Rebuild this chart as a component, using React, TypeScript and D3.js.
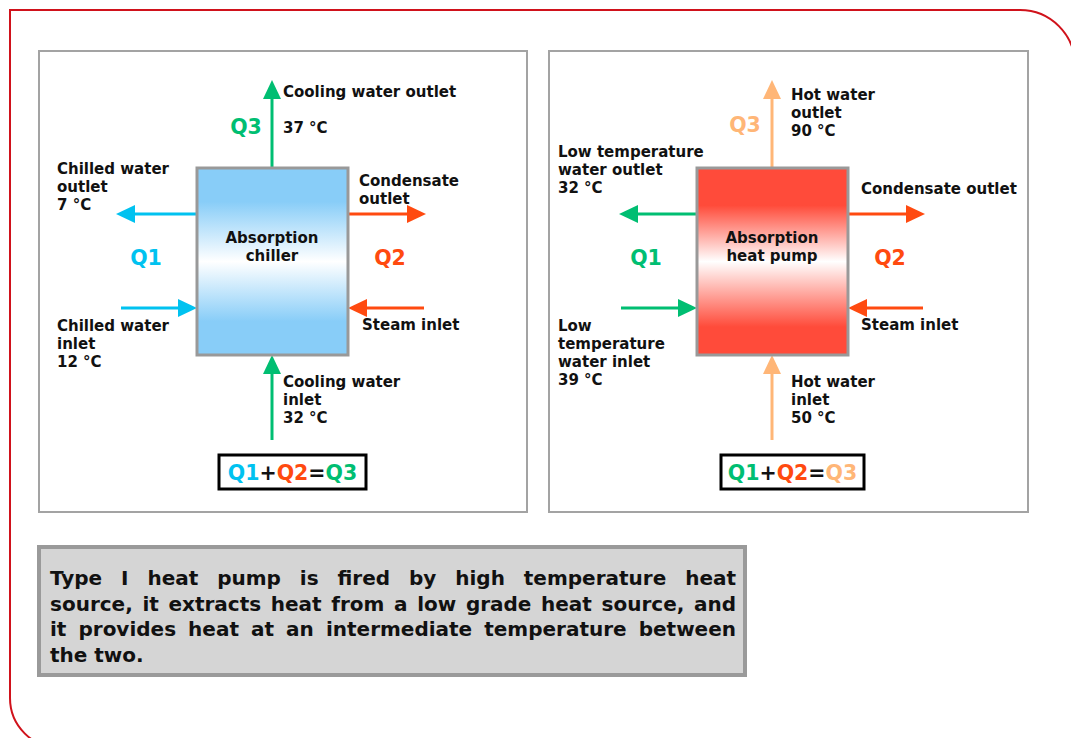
import React from 'react';
import * as d3 from 'd3';

const W = 1071;
const H = 738;

// ---- data (texts / colours per panel) ----
const panelNames = [["Absorption", "chiller"], ["Absorption", "heat pump"]];
const topLabels = [["Cooling water outlet", "", "37 °C"], ["Hot water", "outlet", "90 °C"]];
const leftOutLabels = [["Chilled water", "outlet", "7 °C"], ["Low temperature", "water outlet", "32 °C"]];
const rightOutLabels = [["Condensate", "outlet"], ["Condensate outlet"]];
const leftInLabels = [["Chilled water", "inlet", "12 °C"], ["Low", "temperature", "water inlet", "39 °C"]];
const rightInLabels = [["Steam inlet"], ["Steam inlet"]];
const bottomLabels = [["Cooling water", "inlet", "32 °C"], ["Hot water", "inlet", "50 °C"]];
const qNames = ["Q1", "Q2", "Q3"];
const q1Colors = ["#00c2f0", "#00be72"];
const q2Colors = ["#ff4a10", "#ff4a10"];
const q3Colors = ["#00be72", "#ffb677"];
const boxColors = ["#88cdf8", "#ff4b3a"];
const descLines = [
  "Type I heat pump is fired by high temperature heat",
  "source, it extracts heat from a low grade heat source, and",
  "it provides heat at an intermediate temperature between",
  "the two.",
];

// ---- layout ----
const layouts = [
  {
    panel: [39, 51, 527, 512],
    box: [197, 168, 348, 355],
    cx: 272,
    topY: 92, topX: 283,
    loY: 169, loX: 57,
    roY: 181, roX: 359,
    liY: 326, liX: 57,
    riY: 325, riX: 362,
    boY: 382, boX: 283,
    q3: [246, 127], q1: [146, 258], q2: [390, 258],
    eq: [219, 455, 366, 489],
    outL: 116, inL: 121, outR: 426, inR: 424,
  },
  {
    panel: [549, 51, 1028, 512],
    box: [697, 168, 848, 355],
    cx: 772,
    topY: 95, topX: 791,
    loY: 152, loX: 558,
    roY: 189, roX: 861,
    liY: 326, liX: 558,
    riY: 325, riX: 861,
    boY: 382, boX: 791,
    q3: [745, 125], q1: [646, 258], q2: [890, 258],
    eq: [721, 455, 864, 489],
    outL: 619, inL: 621, outR: 925, inR: 923,
  },
];

const FONT = "'DejaVu Sans', Verdana, sans-serif";
const LABEL_SIZE = 15;
const LH = 18;
const ARR_Y_TOP = 214;
const ARR_Y_BOT = 308;

function Arrow({ x1, y1, x2, y2, color }: any) {
  const len = 19, hw = 9;
  const ang = Math.atan2(y2 - y1, x2 - x1);
  const bx = x2 - len * Math.cos(ang);
  const by = y2 - len * Math.sin(ang);
  const px = -Math.sin(ang) * hw, py = Math.cos(ang) * hw;
  const head = d3.path();
  head.moveTo(x2, y2);
  head.lineTo(bx + px, by + py);
  head.lineTo(bx - px, by - py);
  head.closePath();
  return (
    <g>
      <line x1={x1} y1={y1} x2={bx} y2={by} stroke={color} strokeWidth={3} />
      <path d={head.toString()} fill={color} />
    </g>
  );
}

function Lines({ lines, x, y, anchor = "start" }: any) {
  return (
    <g>
      {lines.map((t: string, i: number) =>
        t ? (
          <text key={i} x={x} y={y + i * LH} dominantBaseline="central" textAnchor={anchor}
            fontFamily={FONT} fontWeight="bold" fontSize={LABEL_SIZE} fill="#111">{t}</text>
        ) : null
      )}
    </g>
  );
}

function Panel({ i }: { i: number }) {
  const L = layouts[i];
  const [bx0, by0, bx1, by1] = L.box;
  const gid = `grad${i}`;
  const c = boxColors[i];
  const qf = { fontFamily: FONT, fontWeight: "bold", fontSize: 20.5 } as any;
  return (
    <g>
      <defs>
        <linearGradient id={gid} x1="0" y1="0" x2="0" y2="1">
          <stop offset="0" stopColor={c} />
          <stop offset={i === 0 ? 0.18 : 0.2} stopColor={c} />
          <stop offset="0.5" stopColor="#ffffff" />
          <stop offset={i === 0 ? 0.82 : 0.85} stopColor={c} />
          <stop offset="1" stopColor={c} />
        </linearGradient>
      </defs>
      <rect x={L.panel[0]} y={L.panel[1]} width={L.panel[2] - L.panel[0]} height={L.panel[3] - L.panel[1]}
        fill="#fff" stroke="#a3a3a3" strokeWidth={2} />
      <Arrow x1={L.cx} y1={by0} x2={L.cx} y2={80} color={q3Colors[i]} />
      <Arrow x1={L.cx} y1={440} x2={L.cx} y2={by1} color={q3Colors[i]} />
      <Arrow x1={bx0} y1={ARR_Y_TOP} x2={L.outL} y2={ARR_Y_TOP} color={q1Colors[i]} />
      <Arrow x1={L.inL} y1={ARR_Y_BOT} x2={bx0} y2={ARR_Y_BOT} color={q1Colors[i]} />
      <Arrow x1={bx1} y1={ARR_Y_TOP} x2={L.outR} y2={ARR_Y_TOP} color={q2Colors[i]} />
      <Arrow x1={L.inR} y1={ARR_Y_BOT} x2={bx1} y2={ARR_Y_BOT} color={q2Colors[i]} />
      <rect x={bx0} y={by0} width={bx1 - bx0} height={by1 - by0} fill={`url(#${gid})`} stroke="#999" strokeWidth={3} />
      <Lines lines={panelNames[i]} x={L.cx} y={238} anchor="middle" />
      <Lines lines={topLabels[i]} x={L.topX} y={L.topY} />
      <Lines lines={leftOutLabels[i]} x={L.loX} y={L.loY} />
      <Lines lines={rightOutLabels[i]} x={L.roX} y={L.roY} />
      <Lines lines={leftInLabels[i]} x={L.liX} y={L.liY} />
      <Lines lines={rightInLabels[i]} x={L.riX} y={L.riY} />
      <Lines lines={bottomLabels[i]} x={L.boX} y={L.boY} />
      <text x={L.q3[0]} y={L.q3[1]} textAnchor="middle" dominantBaseline="central" fill={q3Colors[i]} {...qf}>{qNames[2]}</text>
      <text x={L.q1[0]} y={L.q1[1]} textAnchor="middle" dominantBaseline="central" fill={q1Colors[i]} {...qf}>{qNames[0]}</text>
      <text x={L.q2[0]} y={L.q2[1]} textAnchor="middle" dominantBaseline="central" fill={q2Colors[i]} {...qf}>{qNames[1]}</text>
      <rect x={L.eq[0]} y={L.eq[1]} width={L.eq[2] - L.eq[0]} height={L.eq[3] - L.eq[1]} fill="#fff" stroke="#000" strokeWidth={3} />
      <text x={(L.eq[0] + L.eq[2]) / 2} y={(L.eq[1] + L.eq[3]) / 2 + 1} textAnchor="middle" dominantBaseline="central" {...qf}>
        <tspan fill={q1Colors[i]}>{qNames[0]}</tspan>
        <tspan fill="#111">+</tspan>
        <tspan fill={q2Colors[i]}>{qNames[1]}</tspan>
        <tspan fill="#111">=</tspan>
        <tspan fill={q3Colors[i]}>{qNames[2]}</tspan>
      </text>
    </g>
  );
}

const DESC_FONT_FAMILY = "'DejaVu Sans', Verdana, sans-serif";
const DESC_SIZE = 20;

function measure(word: string): number {
  if (typeof document === "undefined") return word.length * 12;
  const cv = (measure as any).cv || ((measure as any).cv = document.createElement("canvas"));
  const ctx = cv.getContext("2d");
  ctx.font = `bold ${DESC_SIZE}px ${DESC_FONT_FAMILY}`;
  return ctx.measureText(word).width;
}

function Description() {
  const x0 = 50, x1 = 736, y0 = 578, lh = 25.7;
  const minGap = 4;
  return (
    <g>
      <rect x={39} y={547} width={706} height={128} fill="#d5d5d5" stroke="#9a9a9a" strokeWidth={4} />
      {descLines.map((line, li) => {
        const words = line.split(" ");
        const widths = words.map(measure);
        const total = d3.sum(widths);
        const last = li === descLines.length - 1;
        let gap = last ? measure(" ") : (x1 - x0 - total) / (words.length - 1);
        let scale = 1;
        if (!last && gap < minGap) {
          gap = minGap;
          scale = (x1 - x0 - minGap * (words.length - 1)) / total;
        }
        let x = x0;
        return (
          <g key={li} transform={`translate(${x0},0) scale(${scale},1) translate(${-x0},0)`}>
            {words.map((w, wi) => {
              const el = (
                <text key={wi} x={x} y={y0 + li * lh} dominantBaseline="central"
                  fontFamily={DESC_FONT_FAMILY} fontWeight="bold" fontSize={DESC_SIZE} fill="#111">{w}</text>
              );
              x += widths[wi] + gap / scale;
              return el;
            })}
          </g>
        );
      })}
    </g>
  );
}

export default function App() {
  const border = d3.path();
  border.moveTo(10, 698);
  border.lineTo(10, 10);
  border.lineTo(1020, 10);
  border.arcTo(1075, 10, 1075, 65, 55);
  const corner = d3.path();
  corner.moveTo(10, 698);
  corner.arcTo(10, 748, 60, 748, 50);
  return (
    <svg width={W} height={H} style={{ position: "absolute", left: 0, top: 0, background: "#fff" }}>
      <rect x={0} y={0} width={W} height={H} fill="#fff" />
      <path d={border.toString()} fill="none" stroke="#d0121b" strokeWidth={2} />
      <path d={corner.toString()} fill="none" stroke="#d0121b" strokeWidth={2} />
      <Panel i={0} />
      <Panel i={1} />
      <Description />
    </svg>
  );
}
